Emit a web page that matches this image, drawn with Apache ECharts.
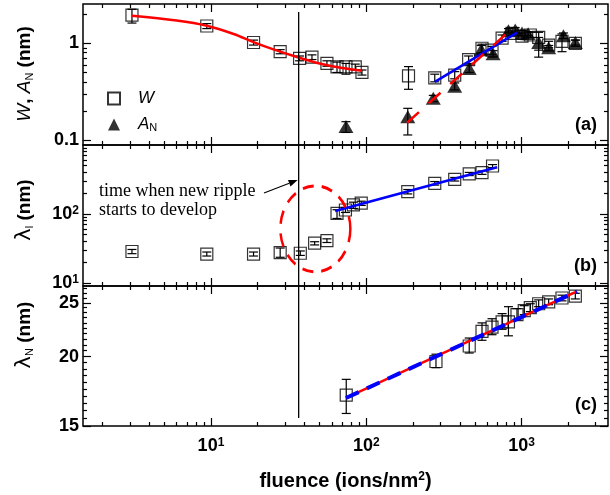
<!DOCTYPE html>
<html><head><meta charset="utf-8">
<script src="https://cdn.jsdelivr.net/npm/echarts@6/dist/echarts.min.js"></script>
<style>html,body{margin:0;padding:0;background:#fff}#c{width:610px;height:495px}</style>
</head><body><div id="c"></div>
<script>
// ---------- data ----------
const xRange = [1.5, 3600];
const xMajor = [10, 100, 1000];
const xMinor = [2,3,4,5,6,7,8,9,20,30,40,50,60,70,80,90,200,300,400,500,600,700,800,900,2000,3000];

// panel (a)
const yARange = [0.089, 2.55];
const yAMajor = [0.1, 1];
const yAMinor = [0.2,0.3,0.4,0.5,0.6,0.7,0.8,0.9,2];
const wFluence = [3.1, 9.4, 18.8, 27.9, 37.2, 44.7, 55.8, 64.8, 74, 84.9, 93.8, 187, 276, 371, 456, 556, 645, 749, 867, 1006, 1138, 1288, 1494, 1820, 2218];
const wValue   = [1.96, 1.51, 1.02, 0.82, 0.70, 0.72, 0.62, 0.57, 0.57, 0.57, 0.50, 0.46, 0.44, 0.47, 0.68, 0.89, 0.85, 1.13, 1.27, 1.19, 1.22, 1.15, 0.96, 1.05, 1.0];
const wLow     = [1.62, 1.42, 0.96, 0.78, 0.66, 0.68, 0.58, 0.50, 0.48, 0.53, 0.47, 0.335, 0.40, 0.43, 0.62, 0.80, 0.77, 1.05, 1.20, 1.10, 1.15, 0.85, 0.90, 0.82, 0.93];
const wHigh    = [2.25, 1.60, 1.08, 0.86, 0.74, 0.76, 0.66, 0.64, 0.62, 0.61, 0.53, 0.575, 0.48, 0.51, 0.74, 0.98, 0.93, 1.22, 1.34, 1.28, 1.30, 1.30, 1.05, 1.25, 1.08];
const aFluence = [74, 185, 270, 371, 460, 550, 655, 823, 910, 1006, 1102, 1288, 1494, 1860, 2218];
const aValue   = [0.138, 0.174, 0.27, 0.36, 0.55, 0.86, 0.78, 1.35, 1.37, 1.28, 1.26, 1.02, 0.90, 1.20, 1.02];
const aLow     = [0.120, 0.113, 0.25, 0.33, 0.50, 0.78, 0.72, 1.28, 1.30, 1.20, 1.20, 0.72, 0.85, 1.12, 0.96];
const aHigh    = [0.155, 0.213, 0.29, 0.39, 0.60, 0.95, 0.84, 1.42, 1.45, 1.36, 1.32, 1.15, 0.95, 1.28, 1.08];
const fitA1X = [3.1, 6, 9.4, 14, 18.8, 25, 37, 50, 70, 94];
const fitA1Y = [1.93, 1.72, 1.52, 1.25, 1.03, 0.87, 0.71, 0.62, 0.555, 0.52];
const fitA2X = [276, 934];
const fitA2Y = [0.40, 1.29];
const fitA3X = [183, 834];
const fitA3Y = [0.151, 1.34];

// panel (b)
const yBRange = [9, 1000];
const yBMajor = [10, 100];
const yBMinor = [20,30,40,50,60,70,80,90,200,300,400,500,600,700,800,900];
const lFluence = [3.1, 9.4, 18.8, 27.9, 37.6, 46.5, 55.8, 64.8, 73.4, 82.6, 92.8, 185, 276, 371, 460, 556, 650];
const lValue   = [28.5, 26.1, 26.1, 27.5, 26.9, 37.6, 41, 102, 114, 135, 143, 210, 278, 318, 380, 397, 496];
const lLow     = [26.5, 24.5, 24.5, 23.5, 25, 35.5, 38.5, 86, 105, 120, 133, 195, 262, 300, 360, 375, 470];
const lHigh    = [30.5, 28, 28, 32, 29, 39.5, 43.5, 115, 124, 148, 153, 226, 295, 338, 400, 420, 520];
const fitBX = [63, 695];
const fitBY = [110, 475];
const ellipseCenter = [47, 60.7];

// panel (c)
const yCRange = [15, 26.8];
const yCMajor = [15, 20, 25];
const yCMinor = [15.5,16,16.5,17,17.5,18,18.5,19,19.5,20.5,21,21.5,22,22.5,23,23.5,24,24.5,25.5,26,26.5];
const nFluence = [74.3, 281, 460, 556, 645, 749, 823, 934, 1040, 1138, 1288, 1494, 1820, 2218];
const nValue   = [17.05, 19.6, 20.9, 22.2, 22.6, 23.1, 23.1, 23.8, 24.2, 24.5, 24.9, 25.1, 25.5, 25.7];
const nLow     = [15.8, 19.1, 20.3, 21.4, 21.9, 22.4, 21.8, 23.3, 23.8, 24.1, 24.6, 24.8, 25.2, 25.4];
const nHigh    = [18.2, 20.2, 21.6, 23.0, 23.4, 23.9, 24.6, 24.4, 24.7, 24.9, 25.3, 25.4, 25.8, 26.0];
const fitCX = [74, 2275];
const fitCY = [16.85, 26.2];

const rippleFluence = 36.7;

// ---------- chart ----------
const FONT = '"Liberation Sans", Arial, Helvetica, sans-serif';
const L = Math.log10;
const zip = (a, b) => a.map((v, i) => [v, b[i]]);
const chart = echarts.init(document.getElementById('c'), null, {renderer: 'canvas'});

const grids = [
  {left: 83, width: 525, top: 4, height: 141},
  {left: 83, width: 525, top: 145, height: 141},
  {left: 83, width: 525, top: 286, height: 140}
].map(g => Object.assign(g, {show: true, borderColor: '#000', borderWidth: 1.5, backgroundColor: 'transparent', containLabel: false}));

function tickAxis(g, pos, range, vals, len, label) {
  return {
    type: 'value', gridIndex: g, position: pos, min: L(range[0]), max: L(range[1]), scale: true,
    axisLine: {show: false, onZero: false},
    splitLine: {show: false}, splitArea: {show: false},
    axisTick: {show: true, inside: true, length: len, customValues: vals.map(L), lineStyle: {color: '#000', width: 1.2}},
    axisLabel: label ? Object.assign({show: true, customValues: label.vals.map(L)}, label.opt) : {show: false},
    axisPointer: {show: false}, silent: true
  };
}
const yRanges = [yARange, yBRange, yCRange];
const yMaj = [yAMajor, yBMajor, yCMajor];
const yMin = [yAMinor, yBMinor, yCMinor];
const yLabelFmt = [
  v => (Math.round(v) === 0 ? '1' : '0.1'),
  v => '{b|10}{s|' + Math.round(v) + '}',
  v => String(Math.round(Math.pow(10, v)))
];
const richSup = {
  b: {fontSize: 18, fontWeight: 'bold', fontFamily: FONT, lineHeight: 18, color: '#000'},
  s: {fontSize: 12, fontWeight: 'bold', fontFamily: FONT, lineHeight: 12, verticalAlign: 'top', color: '#000'}
};

const xAxes = [], yAxes = [];
for (let g = 0; g < 3; g++) {
  xAxes.push({type: 'log', gridIndex: g, min: xRange[0], max: xRange[1], show: false, axisLine: {onZero: false}});
  xAxes.push(tickAxis(g, 'bottom', xRange, xMajor, 8, g === 2 ? {vals: xMajor, opt: {
    margin: 11, formatter: v => '{b|10}{s|' + Math.round(v) + '}', rich: richSup}} : null));
  xAxes.push(tickAxis(g, 'bottom', xRange, xMinor, 4, null));
  xAxes.push(tickAxis(g, 'top', xRange, xMajor, 8, null));
  xAxes.push(tickAxis(g, 'top', xRange, xMinor, 4, null));

  yAxes.push({type: 'log', gridIndex: g, min: yRanges[g][0], max: yRanges[g][1], show: false, axisLine: {onZero: false}});
  yAxes.push(tickAxis(g, 'left', yRanges[g], yMaj[g], 8, {vals: yMaj[g], opt: {
    margin: 4, formatter: yLabelFmt[g], rich: richSup, fontSize: 18, fontWeight: 'bold', fontFamily: FONT, color: '#000'}}));
  yAxes.push(tickAxis(g, 'left', yRanges[g], yMin[g], 4, null));
  yAxes.push(tickAxis(g, 'right', yRanges[g], yMaj[g], 8, null));
  yAxes.push(tickAxis(g, 'right', yRanges[g], yMin[g], 4, null));
}
xAxes[11].name = '{b|fluence (ions/nm}{s|2}{b|)}';
xAxes[11].nameLocation = 'middle';
xAxes[11].nameGap = 45;
xAxes[11].nameTextStyle = {rich: {
  b: {fontSize: 20, fontWeight: 'bold', fontFamily: FONT, lineHeight: 20, color: '#000'},
  s: {fontSize: 12, fontWeight: 'bold', fontFamily: FONT, lineHeight: 12, verticalAlign: 'top', color: '#000'}
}};

function errSeries(g, xs, lo, hi) {
  return {
    type: 'custom', xAxisIndex: 5 * g, yAxisIndex: 5 * g, silent: true, z: 2, clip: false,
    encode: {x: 0, y: [1, 2]},
    data: xs.map((x, i) => [x, lo[i], hi[i]]),
    renderItem: (params, api) => {
      const x = api.value(0);
      const p1 = api.coord([x, api.value(1)]);
      const p2 = api.coord([x, api.value(2)]);
      const w = 4.5, st = {stroke: '#000', lineWidth: 1.2};
      return {type: 'group', children: [
        {type: 'line', shape: {x1: p1[0], y1: p1[1], x2: p2[0], y2: p2[1]}, style: st},
        {type: 'line', shape: {x1: p1[0] - w, y1: p1[1], x2: p1[0] + w, y2: p1[1]}, style: st},
        {type: 'line', shape: {x1: p2[0] - w, y1: p2[1], x2: p2[0] + w, y2: p2[1]}, style: st}
      ]};
    }
  };
}
function squares(g, name, xs, ys) {
  return {type: 'scatter', name: name, xAxisIndex: 5 * g, yAxisIndex: 5 * g, data: zip(xs, ys), symbol: 'rect', symbolSize: 12, z: 3,
    itemStyle: {color: 'rgba(255,255,255,0)', borderColor: '#000', borderWidth: 1.2}, silent: true};
}
function fitLine(g, xs, ys, color, width, type, z, smooth) {
  return {type: 'line', xAxisIndex: 5 * g, yAxisIndex: 5 * g, data: zip(xs, ys), symbol: 'none', smooth: smooth || false, z: z || 5, silent: true,
    lineStyle: {color: color, width: width, type: type || 'solid', cap: 'butt'}};
}

const series = [
  errSeries(0, wFluence, wLow, wHigh),
  errSeries(0, aFluence, aLow, aHigh),
  squares(0, 'W', wFluence, wValue),
  {type: 'scatter', name: 'A_N', xAxisIndex: 0, yAxisIndex: 0, data: zip(aFluence, aValue), symbol: 'triangle', symbolSize: [15, 13], z: 4,
    itemStyle: {color: '#000'}, silent: true},
  fitLine(0, fitA1X, fitA1Y, '#ff0000', 2.5, 'solid', 5, 0.35),
  fitLine(0, fitA2X, fitA2Y, '#0000ff', 2.5, 'solid', 5),
  fitLine(0, fitA3X, fitA3Y, '#ff0000', 2.5, [16, 13], 6),

  errSeries(1, lFluence, lLow, lHigh),
  squares(1, 'lam_l', lFluence, lValue),
  fitLine(1, fitBX, fitBY, '#0000ff', 2.5, 'solid', 5),

  errSeries(2, nFluence, nLow, nHigh),
  squares(2, 'lam_N', nFluence, nValue),
  fitLine(2, fitCX, fitCY, '#ff0000', 2.5, 'solid', 5),
  fitLine(2, fitCX, fitCY, '#0000ff', 4, [14, 9], 6)
];

chart.setOption({
  animation: false,
  backgroundColor: '#fff',
  grid: grids,
  xAxis: xAxes,
  yAxis: yAxes,
  legend: {
    data: [{name: 'W'}, {name: 'A_N'}], orient: 'vertical', left: 107, top: 90, padding: 0,
    itemWidth: 12, itemHeight: 12, itemGap: 9, selectedMode: false,
    formatter: n => (n === 'W' ? '{i|W}' : '{i|A}{s|N}'),
    textStyle: {padding: [0, 0, 0, 13], rich: {
      i: {fontSize: 17, fontStyle: 'italic', fontFamily: FONT, color: '#000', lineHeight: 18},
      s: {fontSize: 11, fontFamily: FONT, color: '#000', lineHeight: 11, verticalAlign: 'bottom'}
    }}
  },
  series: series
});

// ---------- annotations ----------
const vx = chart.convertToPixel({xAxisIndex: 0}, rippleFluence);
const ec = chart.convertToPixel({xAxisIndex: 5, yAxisIndex: 5}, ellipseCenter);
const arrowEnd = [vx - 1, 180], arrowStart = [264, 193];
const ang = Math.atan2(arrowEnd[1] - arrowStart[1], arrowEnd[0] - arrowStart[0]);
const ah = 9, aw = 3.5;
const bx = arrowEnd[0] - ah * Math.cos(ang), by = arrowEnd[1] - ah * Math.sin(ang);
const nameRich = {
  i: {fontSize: 19, fontStyle: 'italic', fontFamily: FONT, fill: '#000', lineHeight: 20},
  n: {fontSize: 19, fontWeight: 'bold', fontFamily: FONT, fill: '#000', lineHeight: 20},
  g: {fontSize: 21, fontFamily: '"DejaVu Sans", sans-serif', fill: '#000', lineHeight: 20},
  s: {fontSize: 11, fontFamily: FONT, fill: '#000', lineHeight: 11, verticalAlign: 'bottom'}
};
const panelLabel = (t, y) => ({type: 'text', x: 597, y: y, style: {text: t, font: 'bold 18px ' + FONT, fill: '#000', align: 'right', verticalAlign: 'middle'}, z: 20});
chart.setOption({
  graphic: [
    {type: 'line', shape: {x1: vx, y1: 12, x2: vx, y2: 418}, style: {stroke: '#000', lineWidth: 1.3}, z: 20},
    {type: 'circle', x: ec[0], y: ec[1], scaleY: 43 / 35, shape: {cx: 0, cy: 0, r: 35},
      style: {fill: 'none', stroke: '#ff0000', lineWidth: 2.5, lineDash: [11, 8], strokeNoScale: true}, z: 20},
    {type: 'text', x: 99, y: 182, style: {text: 'time when new ripple\nstarts to develop', font: '18px "Liberation Serif", "Times New Roman", serif', fill: '#000', lineHeight: 19, align: 'left', verticalAlign: 'top'}, z: 20},
    {type: 'line', shape: {x1: arrowStart[0], y1: arrowStart[1], x2: bx, y2: by}, style: {stroke: '#000', lineWidth: 1.2}, z: 20},
    {type: 'polygon', shape: {points: [arrowEnd,
      [bx + aw * Math.sin(ang), by - aw * Math.cos(ang)],
      [bx - aw * Math.sin(ang), by + aw * Math.cos(ang)]]}, style: {fill: '#000'}, z: 20},
    panelLabel('(a)', 125), panelLabel('(b)', 266), panelLabel('(c)', 405),
    {type: 'text', x: 25, y: 74, rotation: Math.PI / 2, style: {text: '{i|W}{n|, }{i|A}{s|N}{n| (nm)}', rich: nameRich, align: 'center', verticalAlign: 'middle'}, z: 20},
    {type: 'text', x: 25, y: 210, rotation: Math.PI / 2, style: {text: '{g|λ}{s|l}{n| (nm)}', rich: nameRich, align: 'center', verticalAlign: 'middle'}, z: 20},
    {type: 'text', x: 25, y: 335, rotation: Math.PI / 2, style: {text: '{g|λ}{s|N}{n| (nm)}', rich: nameRich, align: 'center', verticalAlign: 'middle'}, z: 20}
  ]
});
</script></body></html>
